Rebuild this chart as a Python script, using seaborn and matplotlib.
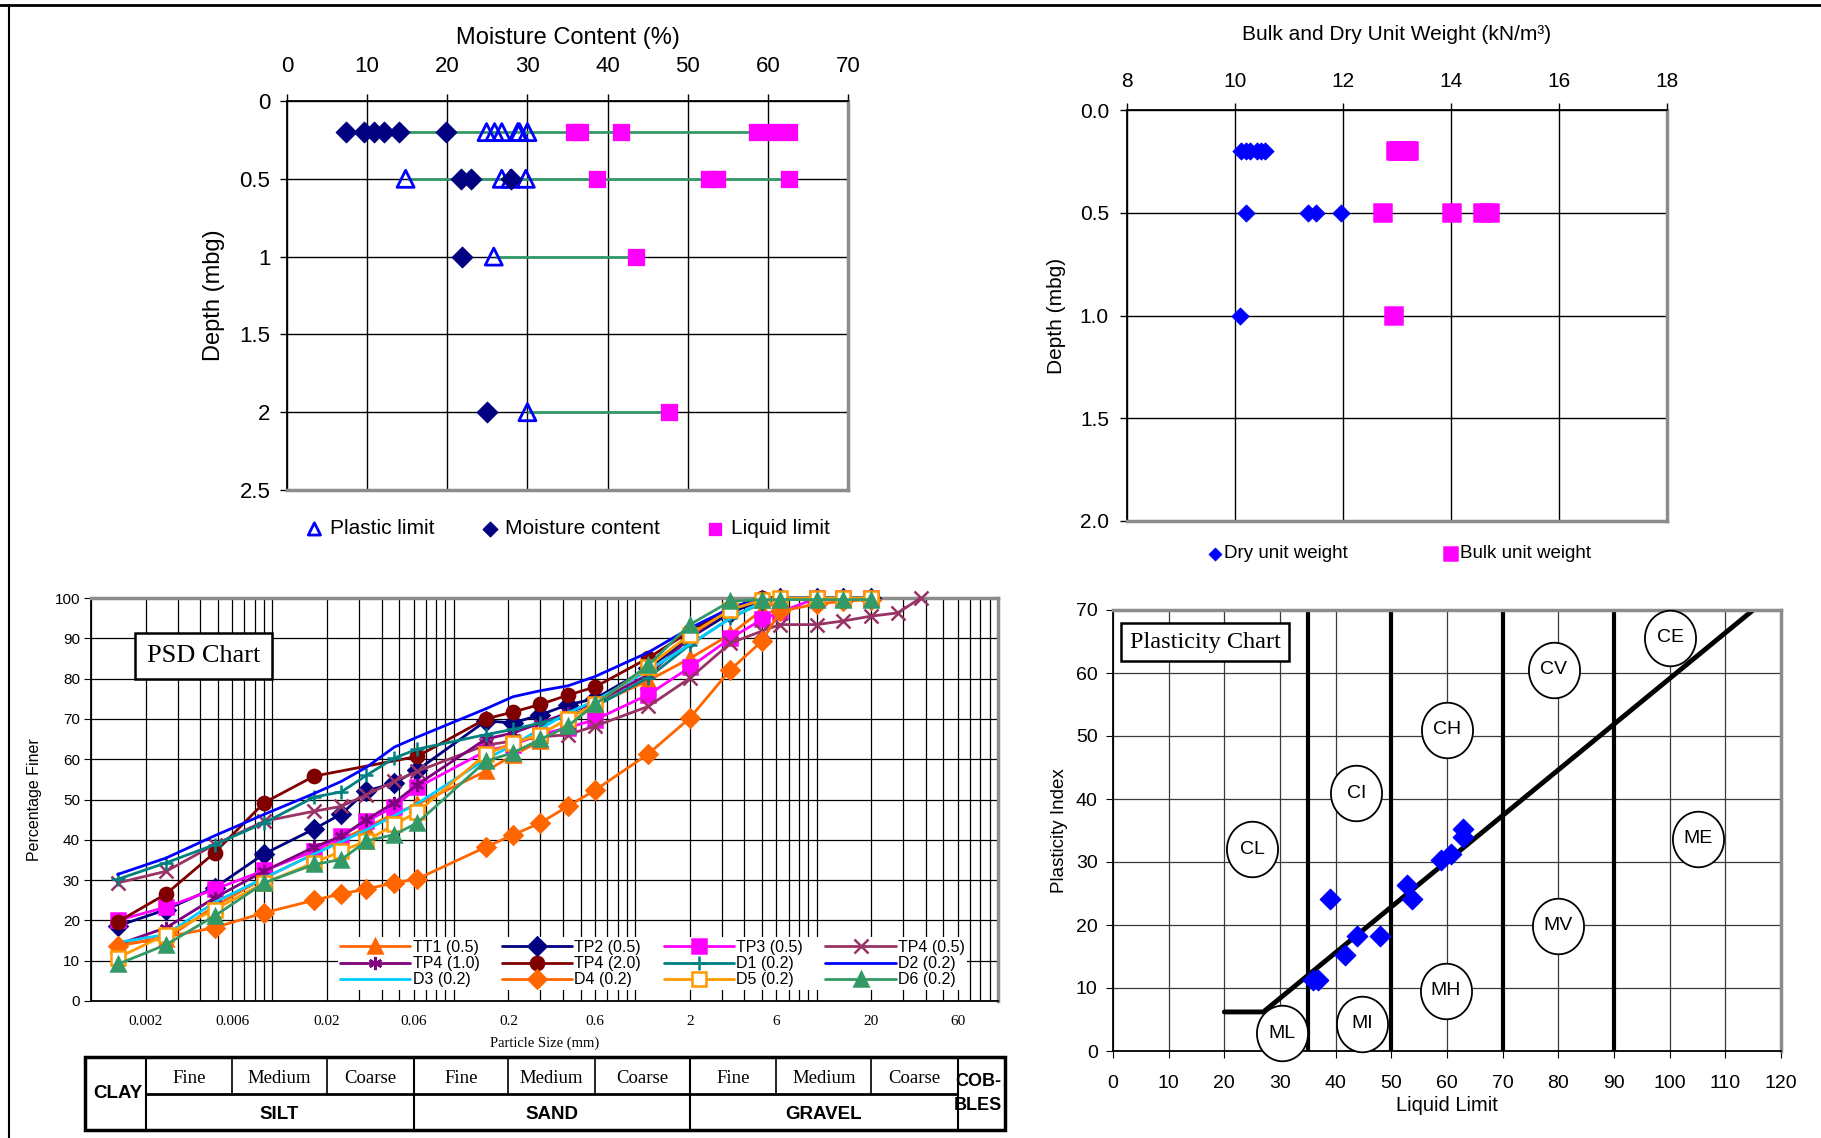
import numpy as np
import pandas as pd
import seaborn as sns
import matplotlib.pyplot as plt
from matplotlib.lines import Line2D
from matplotlib.patches import Rectangle
from matplotlib.path import Path
from matplotlib.ticker import LogLocator, NullFormatter, FuncFormatter

nan = np.nan

# ---- moisture content and Atterberg limits against depth
mc_depth = [0.2, 0.2, 0.2, 0.2, 0.2, 0.2, 0.5, 0.5, 0.5, 1.0, 2.0]
moisture = [7.4, 9.6, 10.9, 12.1, 14.0, 19.8, 21.7, 22.9, 28.0, 21.8, 24.9]
lim_depth = [0.2, 0.2, 0.2, 0.2, 0.2, 0.2, 0.5, 0.5, 0.5, 0.5, 1.0, 2.0]
plastic = [24.9, 25.9, 26.8, 28.8, 29.0, 30.0, 14.8, 26.8, 27.9, 29.8, 25.8, 30.0]
liquid = [35.8, 36.6, 41.7, 58.7, 60.7, 62.7, 38.7, 52.6, 53.6, 62.7, 43.6, 47.7]
range_depth = [0.2, 0.5, 1.0, 2.0]
range_lo = [14.6, 15.0, 26.0, 30.0]
range_hi = [62.7, 62.7, 43.6, 47.7]

# ---- unit weights against depth
uw_depth = [0.2, 0.2, 0.2, 0.2, 0.2, 0.2, 0.5, 0.5, 0.5, 0.5, 1.0]
dry_uw = [10.12, 10.2, 10.28, 10.4, 10.48, 10.55, 10.2, 11.35, 11.5, 11.96, 10.1]
bulk_uw = [12.98, 13.03, 13.08, 13.13, 13.18, 13.22, 12.74, 14.02, 14.6, 14.72, 12.94]

# ---- particle size distribution
psd_sizes = [0.0014, 0.0026, 0.0048, 0.009, 0.017, 0.024, 0.033, 0.047, 0.063, 0.15,
             0.212, 0.3, 0.425, 0.6, 1.18, 2, 3.35, 5, 6.3, 10, 14, 20, 28, 37.5]
tt1_05 = [14.0, 15.5, 23.5, 30.5, 36.5, 40.0, 43.0, 46.5, 48.8, 57.0, 61.0, 64.5,
          68.5, 73.5, 79.5, 85.0, 91.0, 97.0, 99.5, 100, 100, 100, nan, nan]
tp2_05 = [18.6, 22.7, 28.1, 36.5, 42.7, 46.4, 52.1, 54.1, 57.3, 69.5, 69.0, 71.0,
          73.5, 75.0, 82.6, 90.1, 96.3, 99.5, 100, 100, 100, 100, nan, nan]
tp3_05 = [20.0, 23.3, 27.7, 32.4, 37.2, 40.9, 44.6, 48.2, 53.0, 62.0, 63.6, 66.1,
          67.8, 69.8, 76.0, 82.8, 90.0, 94.7, 96.5, 100, 100, 100, nan, nan]
tp4_05 = [29.3, 32.2, 38.8, 44.6, 47.1, 48.3, 51.2, 54.5, 57.0, 63.5, 64.5, 65.5,
          66.1, 68.2, 73.1, 80.1, 88.8, 91.8, 93.4, 93.4, 94.3, 95.5, 96.3, 100]
tp4_10 = [14.0, 18.2, 25.6, 32.2, 38.2, 40.9, 45.0, 49.2, 53.7, 65.0, 66.5, 69.0,
          71.5, 74.0, 81.0, 90.0, 97.5, 100, 100, 100, 100, 100, nan, nan]
tp4_20 = [19.6, 26.6, 36.8, 49.2, 55.8, nan, nan, nan, 60.7, 70.0, 71.7, 73.6,
          75.9, 77.9, 85.1, 91.7, 97.5, 100, 100, 100, 100, 100, nan, nan]
d1_02 = [30.2, 34.3, 38.8, 44.2, 50.6, 51.9, 56.0, 60.3, 62.5, 66.1, 67.4, 69.0,
         70.7, 73.1, 80.2, 88.4, 95.0, 98.8, 100, 100, 100, 100, nan, nan]
d2_02 = [31.4, 35.5, 41.0, 46.3, 51.5, 54.5, 58.0, 63.0, 65.5, 72.5, 75.5, 77.0,
         78.2, 80.5, 86.5, 92.5, 97.5, 100, 100, 100, 100, 100, nan, nan]
d3_02 = [14.5, 16.5, 24.5, 30.5, 36.5, 39.5, 42.5, 46.0, 49.0, 60.0, 63.5, 67.5,
         71.5, 74.5, 82.0, 88.5, 95.0, 99.0, 100, 100, 100, 100, nan, nan]
d4_02 = [13.6, nan, 18.2, 21.9, 25.0, 26.6, 27.8, 29.3, 30.3, 38.2, 41.2, 44.2,
         48.3, 52.3, 61.3, 70.2, 82.2, 89.3, 96.7, 98.5, 99.2, 99.6, nan, nan]
d5_02 = [10.7, 16.5, 22.7, 29.3, 34.3, 37.2, 39.7, 43.8, 46.9, 61.2, 64.0, 66.1,
         70.0, 73.7, 83.0, 90.9, 97.1, 99.5, 100, 100, 100, 100, nan, nan]
d6_02 = [9.1, 14.0, 21.1, 29.3, 33.9, 35.1, 39.7, 41.3, 44.2, 59.5, 61.6, 64.9,
         68.2, 73.6, 83.3, 93.4, 99.2, 99.6, 99.6, 99.6, 99.6, 99.6, nan, nan]
psd_names = ['TT1 (0.5)', 'TP2 (0.5)', 'TP3 (0.5)', 'TP4 (0.5)', 'TP4 (1.0)', 'TP4 (2.0)',
             'D1 (0.2)', 'D2 (0.2)', 'D3 (0.2)', 'D4 (0.2)', 'D5 (0.2)', 'D6 (0.2)']
psd_values = [tt1_05, tp2_05, tp3_05, tp4_05, tp4_10, tp4_20,
              d1_02, d2_02, d3_02, d4_02, d5_02, d6_02]
psd_ticks = [0.002, 0.006, 0.02, 0.06, 0.2, 0.6, 2, 6, 20, 60]
psd_tick_labels = ['0.002', '0.006', '0.02', '0.06', '0.2', '0.6', '2', '6', '20', '60']
class_bounds = [0.002, 0.06, 2, 60]
sub_bounds = [0.006, 0.02, 0.2, 0.6, 6, 20]
class_names = ['SILT', 'SAND', 'GRAVEL']
sub_names = ['Fine', 'Medium', 'Coarse']

# ---- plasticity chart
pc_ll = [36.0, 36.8, 39.0, 41.7, 43.8, 48.0, 52.8, 53.8, 58.9, 60.8, 62.8, 62.8]
pc_pi = [11.3, 11.2, 24.2, 15.2, 18.3, 18.3, 26.3, 24.2, 30.3, 31.3, 35.3, 34.0]
zone_ll = [35, 50, 70, 90]
a_line_ll = [20, 27, 115]
a_line_pi = [6.2, 6.2, 70]
zone_names = ['CL', 'CI', 'CH', 'CV', 'CE', 'ML', 'MI', 'MH', 'MV', 'ME']
zone_x = [25.0, 43.7, 60.0, 79.2, 100.1, 30.4, 44.7, 59.8, 80.0, 105.1]
zone_y = [32.0, 40.9, 51.0, 60.5, 65.6, 2.8, 4.3, 9.6, 19.9, 33.7]

# colours / markers
psd_colors = ['#FF6600', '#000080', '#FF00FF', '#993366', '#800080', '#800000',
              '#008080', '#0000FF', '#00CCFF', '#FF6600', '#FF9900', '#339966']
psd_markers = ['^', 'D', 's', 'x', (6, 2, 0), 'o', '+', None, None, 'D', 's', '^']

SANS = ['Liberation Sans', 'DejaVu Sans']
SERIF = ['Liberation Serif', 'DejaVu Serif']

sns.set_style('white', rc={'axes.edgecolor': 'black', 'text.color': 'black',
                           'axes.labelcolor': 'black', 'xtick.color': 'black',
                           'ytick.color': 'black'})
plt.rcParams['font.family'] = SANS

fig = plt.figure(figsize=(18.21, 11.38), dpi=100)
W, H = 1821, 1138


def box(l, t, r, b):
    return [l / W, (H - b) / H, (r - l) / W, (b - t) / H]


def frame(ax, dark=('left', 'top')):
    for side, sp in ax.spines.items():
        if side in dark:
            sp.set_color('black')
            sp.set_linewidth(1.3)
        else:
            sp.set_color('#8c8c8c')
            sp.set_linewidth(2.5)


g = FuncFormatter(lambda v, p: f'{v:g}')

# ================= moisture content panel
ax1 = fig.add_axes(box(287, 101, 848, 490))
ax1.hlines(range_depth, range_lo, range_hi, color='#339966', lw=2, zorder=2)
sns.scatterplot(x=plastic, y=lim_depth, ax=ax1, marker='^', s=150, facecolor='none',
                edgecolor='#0000FF', linewidth=2, label='Plastic limit', zorder=3)
sns.scatterplot(x=moisture, y=mc_depth, ax=ax1, marker='D', s=110, color='#000080',
                edgecolor='#000080', label='Moisture content', zorder=3)
sns.scatterplot(x=liquid, y=lim_depth, ax=ax1, marker='s', s=135, color='#FF00FF',
                edgecolor='#FF00FF', label='Liquid limit', zorder=3)
ax1.set_xlim(0, 70)
ax1.set_ylim(2.5, 0)
ax1.set_xticks(range(0, 71, 10))
ax1.set_yticks([0, 0.5, 1, 1.5, 2, 2.5])
ax1.yaxis.set_major_formatter(g)
ax1.xaxis.tick_top()
ax1.xaxis.set_label_position('top')
ax1.grid(True, color='black', lw=1)
ax1.tick_params(axis='both', labelsize=16, length=5, width=1, direction='out')
ax1.tick_params(axis='x', pad=12)
ax1.tick_params(axis='y', pad=7, left=True)
ax1.set_xlabel('Moisture Content (%)', fontsize=17, labelpad=9)
ax1.set_ylabel('Depth (mbg)', fontsize=17, labelpad=10)
frame(ax1)
ax1.legend(loc='center', bbox_to_anchor=(0.5, -0.1), ncol=3, frameon=False,
           fontsize=15, handlelength=0.9, handletextpad=0.3, columnspacing=2.2,
           borderaxespad=0, markerscale=0.72)

# ================= unit weight panel
ax2 = fig.add_axes(box(1127, 110, 1667, 521))
sns.scatterplot(x=dry_uw, y=uw_depth, ax=ax2, marker='D', s=75, color='#0000FF',
                edgecolor='#0000FF', label='Dry unit weight', zorder=3)
sns.scatterplot(x=bulk_uw, y=uw_depth, ax=ax2, marker='s', s=185, color='#FF00FF',
                edgecolor='#FF00FF', label='Bulk unit weight', zorder=3)
ax2.set_xlim(8, 18)
ax2.set_ylim(2.0, 0.0)
ax2.set_xticks(range(8, 19, 2))
ax2.set_yticks([0.0, 0.5, 1.0, 1.5, 2.0])
ax2.yaxis.set_major_formatter(FuncFormatter(lambda v, p: f'{v:.1f}'))
ax2.xaxis.tick_top()
ax2.xaxis.set_label_position('top')
ax2.grid(True, color='black', lw=1)
ax2.tick_params(axis='both', labelsize=15, length=5, width=1, direction='out')
ax2.tick_params(axis='x', pad=9)
ax2.tick_params(axis='y', pad=8, left=True)
ax2.set_xlabel('Bulk and Dry Unit Weight (kN/m³)', fontsize=15, labelpad=23)
ax2.set_ylabel('Depth (mbg)', fontsize=15, labelpad=10)
frame(ax2)
ax2.legend(loc='center', bbox_to_anchor=(0.505, -0.08), ncol=2, frameon=False,
           fontsize=13.5, handlelength=0.7, handletextpad=0.1, columnspacing=5.2,
           borderaxespad=0, markerscale=0.75)

# ================= PSD panel
ax3 = fig.add_axes(box(91, 598, 998, 1001))
for name, vals, col, mk in zip(psd_names, psd_values, psd_colors, psd_markers):
    d = pd.DataFrame({'size': psd_sizes, 'pct': vals}).dropna()
    sns.lineplot(data=d, x='size', y='pct', ax=ax3, color=col, lw=2, marker=mk,
                 markersize=9.5, markeredgecolor=col, markeredgewidth=1.8,
                 markerfacecolor='white' if name == 'D5 (0.2)' else col,
                 sort=False, estimator=None, label=name, zorder=3, clip_on=False)
ax3.set_xscale('log')
ax3.set_xlim(0.001, 100)
ax3.set_ylim(0, 100)
ax3.set_xticks(psd_ticks, labels=psd_tick_labels, fontfamily=SERIF, fontsize=11)
ax3.xaxis.set_minor_locator(LogLocator(base=10, subs=np.arange(1, 10), numticks=60))
ax3.xaxis.set_minor_formatter(NullFormatter())
ax3.set_yticks(range(0, 101, 10))
ax3.grid(True, which='minor', axis='x', color='black', lw=0.9)
ax3.grid(True, which='major', axis='both', color='black', lw=0.9)
ax3.tick_params(axis='x', which='both', length=0, pad=10)
ax3.tick_params(axis='y', labelsize=11, length=5, direction='out', left=True, pad=3)
ax3.set_xlabel('Particle Size (mm)', fontfamily=SERIF, fontsize=10.5, labelpad=6)
ax3.set_ylabel('Percentage Finer', fontsize=11.5, labelpad=9)
frame(ax3, dark=('left', 'bottom'))
ax3.text(0.124, 0.857, 'PSD Chart', transform=ax3.transAxes, ha='center', va='center',
         fontfamily=SERIF, fontsize=19, zorder=6,
         bbox=dict(boxstyle='square,pad=0.45', fc='white', ec='black', lw=1.8))
handles, labels = ax3.get_legend_handles_labels()
order = [0, 4, 8, 1, 5, 9, 2, 6, 10, 3, 7, 11]
leg = ax3.legend([handles[i] for i in order], [labels[i] for i in order],
                 loc='lower right', bbox_to_anchor=(0.975, 0.008), ncol=4,
                 fontsize=11.5, frameon=True, fancybox=False, framealpha=1,
                 edgecolor='none', handlelength=4.4, handletextpad=0.15,
                 columnspacing=1.4, labelspacing=0.08, borderpad=0.15)
leg.set_zorder(5)

# soil classification table under the PSD axis
xt = ax3.get_xaxis_transform()
y_top, y_mid, y_bot = -0.139, -0.231, -0.320
ax3.add_patch(Rectangle((-0.0066, y_bot), 1.0143, y_top - y_bot, transform=ax3.transAxes,
                        fill=False, lw=2.5, ec='black', clip_on=False))
ax3.vlines(class_bounds, y_bot, y_top, transform=xt, colors='black', lw=1.5, clip_on=False)
ax3.vlines(sub_bounds, y_mid, y_top, transform=xt, colors='black', lw=1.2, clip_on=False)
ax3.hlines(y_mid, class_bounds[0], class_bounds[-1], transform=xt, colors='black',
           lw=2, clip_on=False)
all_bounds = sorted(class_bounds + sub_bounds)
for i in range(len(all_bounds) - 1):
    xc = np.sqrt(all_bounds[i] * all_bounds[i + 1])
    ax3.text(xc, (y_top + y_mid) / 2 - 0.008, sub_names[i % 3], transform=xt,
             ha='center', va='center', fontfamily=SERIF, fontsize=13.5)
for i, nm in enumerate(class_names):
    xc = np.sqrt(class_bounds[i] * class_bounds[i + 1])
    ax3.text(xc, (y_mid + y_bot) / 2 - 0.005, nm, transform=xt, ha='center',
             va='center', fontsize=13.5, fontweight='bold')
ax3.text(np.sqrt(0.001 * class_bounds[0]), (y_top + y_bot) / 2, 'CLAY', transform=xt,
         ha='center', va='center', fontsize=13.5, fontweight='bold')
ax3.text(np.sqrt(100 * class_bounds[-1]), (y_top + y_bot) / 2, 'COB-\nBLES', transform=xt,
         ha='center', va='center', fontsize=13, fontweight='bold', linespacing=1.6)

# ================= plasticity chart
ax4 = fig.add_axes(box(1113, 610, 1781, 1051))
ax4.vlines(zone_ll, 0, 70, colors='black', lw=3, zorder=2)
sns.lineplot(x=a_line_ll, y=a_line_pi, ax=ax4, color='black', lw=3.5, sort=False,
             estimator=None, zorder=2)
sns.scatterplot(x=pc_ll, y=pc_pi, ax=ax4, marker='D', s=110, color='#0000FF',
                edgecolor='#0000FF', zorder=3)
t = np.linspace(0, 2 * np.pi, 80)
ellipse = Path(np.column_stack([0.92 * np.cos(t), np.sin(t)]))
sns.scatterplot(x=zone_x, y=zone_y, ax=ax4, marker=ellipse, s=1600, facecolor='white',
                edgecolor='black', linewidth=1.3, zorder=4, clip_on=False)
for nm, x, y in zip(zone_names, zone_x, zone_y):
    ax4.text(x, y, nm, ha='center', va='center', fontsize=14, zorder=5)
ax4.set_xlim(0, 120)
ax4.set_ylim(0, 70)
ax4.set_xticks(range(0, 121, 10))
ax4.set_yticks(range(0, 71, 10))
ax4.grid(True, color='#3a3a3a', lw=0.9)
ax4.tick_params(axis='both', labelsize=14, length=5, direction='out', left=True,
                bottom=True)
ax4.tick_params(axis='x', pad=12)
ax4.tick_params(axis='y', pad=6)
ax4.set_xlabel('Liquid Limit', fontsize=14.5, labelpad=3)
ax4.set_ylabel('Plasticity Index', fontsize=13.5, labelpad=6)
frame(ax4, dark=('left', 'bottom'))
ax4.text(0.138, 0.927, 'Plasticity Chart', transform=ax4.transAxes, ha='center',
         va='center', fontfamily=SERIF, fontsize=17.5, zorder=6,
         bbox=dict(boxstyle='square,pad=0.35', fc='white', ec='black', lw=1.8))
if ax4.get_legend() is not None:
    ax4.get_legend().remove()

# page border lines
fig.add_artist(Line2D([0, 1], [1 - 5 / H] * 2, color='black', lw=2,
                      transform=fig.transFigure))
fig.add_artist(Line2D([9 / W] * 2, [0, 1 - 5 / H], color='black', lw=1.5,
                      transform=fig.transFigure))

fig.savefig('out.png', dpi=100)
